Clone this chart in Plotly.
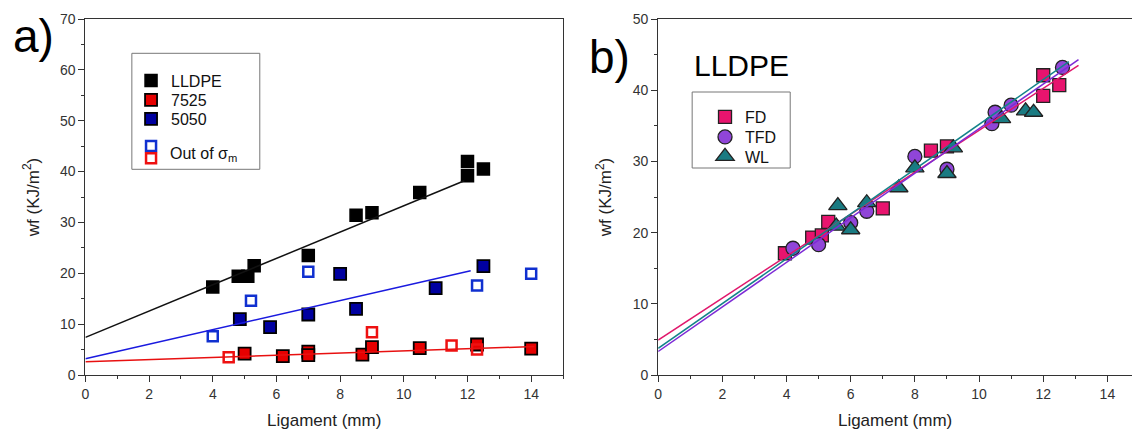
import plotly.graph_objects as go

# ---------------- Panel a) data ----------------
lldpe_x = [4.0, 4.8, 5.1, 5.3, 7.0, 8.5, 9.0, 10.5, 12.0, 12.0, 12.5]
lldpe_y = [17.3, 19.4, 19.4, 21.5, 23.5, 31.4, 31.9, 35.9, 42.0, 39.2, 40.5]
r7525_x = [5.0, 6.2, 7.0, 7.0, 8.7, 9.0, 10.5, 12.3, 14.0]
r7525_y = [4.2, 3.7, 4.6, 3.9, 4.0, 5.5, 5.3, 6.0, 5.2]
b5050_x = [4.85, 5.8, 7.0, 8.0, 8.5, 11.0, 12.5]
b5050_y = [11.0, 9.4, 11.9, 19.9, 13.0, 17.1, 21.4]
out5050_x = [4.0, 5.2, 7.0, 12.3, 14.0]
out5050_y = [7.6, 14.6, 20.3, 17.6, 19.9]
out7525_x = [4.5, 9.0, 11.5, 12.3]
out7525_y = [3.5, 8.4, 5.8, 5.0]

fit_lldpe_x = [0.0, 11.9]
fit_lldpe_y = [7.4, 38.2]
fit_5050_x = [0.0, 12.1]
fit_5050_y = [3.2, 20.5]
fit_7525_x = [0.0, 14.1]
fit_7525_y = [2.6, 5.6]

# ---------------- Panel b) data ----------------
fd_x = [3.95, 4.8, 5.1, 5.3, 7.0, 8.5, 9.0, 12.0, 12.0, 12.5]
fd_y = [17.1, 19.3, 19.6, 21.5, 23.4, 31.5, 32.1, 42.1, 39.2, 40.7]
tfd_x = [4.2, 5.0, 6.0, 6.5, 8.0, 9.0, 10.4, 10.5, 11.0, 12.6]
tfd_y = [17.8, 18.3, 21.4, 23.0, 30.7, 28.9, 35.3, 36.9, 37.9, 43.2]
wl_x = [5.6, 5.55, 6.0, 6.5, 7.5, 8.0, 9.0, 9.2, 10.7, 11.45, 11.7]
wl_y = [23.8, 20.9, 20.4, 24.2, 26.3, 29.1, 28.3, 31.9, 36.0, 37.1, 36.9]

fit_fd_x = [0.0, 13.1]
fit_fd_y = [4.9, 43.5]
fit_tfd_x = [0.0, 13.1]
fit_tfd_y = [3.3, 44.3]
fit_wl_x = [0.0, 12.8]
fit_wl_y = [3.75, 44.0]

x_ticks = [0, 2, 4, 6, 8, 10, 12, 14]
ya_ticks = [0, 10, 20, 30, 40, 50, 60, 70]
yb_ticks = [0, 10, 20, 30, 40, 50]

FONT = "Liberation Sans, Arial, sans-serif"
W, H = 1132, 431
TOP, BOT = 19, 375


def px_x(p):
    return p / W


def px_y(p):
    return (BOT - p) / (BOT - TOP)


fig = go.Figure()

# ---- panel a markers ----
fig.add_trace(go.Scatter(x=lldpe_x, y=lldpe_y, mode="markers", name="LLDPE",
                         marker=dict(symbol="square", size=12, color="#000000",
                                     line=dict(color="#000000", width=1.5)),
                         xaxis="x", yaxis="y", legend="legend"))
fig.add_trace(go.Scatter(x=r7525_x, y=r7525_y, mode="markers", name="7525",
                         marker=dict(symbol="square", size=12, color="#E60000",
                                     line=dict(color="#000000", width=1.8)),
                         xaxis="x", yaxis="y", legend="legend2"))
fig.add_trace(go.Scatter(x=b5050_x, y=b5050_y, mode="markers", name="5050",
                         marker=dict(symbol="square", size=12, color="#0000A0",
                                     line=dict(color="#000000", width=1.8)),
                         xaxis="x", yaxis="y", legend="legend3"))
fig.add_trace(go.Scatter(x=out5050_x, y=out5050_y, mode="markers", name=" ",
                         marker=dict(symbol="square-open", size=10, color="#1030D0",
                                     line=dict(color="#1030D0", width=2.5)),
                         xaxis="x", yaxis="y", legend="legend4"))
fig.add_trace(go.Scatter(x=out7525_x, y=out7525_y, mode="markers", name=" ",
                         marker=dict(symbol="square-open", size=10, color="#EE1111",
                                     line=dict(color="#EE1111", width=2.5)),
                         xaxis="x", yaxis="y", legend="legend5"))
# ---- panel a fits ----
for fx, fy, col in [(fit_lldpe_x, fit_lldpe_y, "#111111"),
                    (fit_5050_x, fit_5050_y, "#1a1adf"),
                    (fit_7525_x, fit_7525_y, "#E81010")]:
    fig.add_trace(go.Scatter(x=fx, y=fy, mode="lines", line=dict(color=col, width=1.5),
                             showlegend=False, xaxis="x", yaxis="y", hoverinfo="skip"))

# ---- panel b markers ----
fig.add_trace(go.Scatter(x=fd_x, y=fd_y, mode="markers", name="FD",
                         marker=dict(symbol="square", size=13, color="#E8146E",
                                     line=dict(color="#222222", width=1.3)),
                         xaxis="x2", yaxis="y2", legend="legend6"))
fig.add_trace(go.Scatter(x=tfd_x, y=tfd_y, mode="markers", name="TFD",
                         marker=dict(symbol="circle", size=14, color="#9045D8",
                                     line=dict(color="#222222", width=1.3)),
                         xaxis="x2", yaxis="y2", legend="legend7"))
fig.add_trace(go.Scatter(x=wl_x, y=wl_y, mode="markers", name="WL",
                         marker=dict(symbol="triangle-up", size=16, color="#1A7B82",
                                     line=dict(color="#222222", width=1.3)),
                         xaxis="x2", yaxis="y2", legend="legend8"))
for fx, fy, col in [(fit_fd_x, fit_fd_y, "#E0186C"),
                    (fit_tfd_x, fit_tfd_y, "#7D2AD6"),
                    (fit_wl_x, fit_wl_y, "#13838A")]:
    fig.add_trace(go.Scatter(x=fx, y=fy, mode="lines", line=dict(color=col, width=1.5),
                             showlegend=False, xaxis="x2", yaxis="y2", hoverinfo="skip"))

axis_common = dict(showline=True, linecolor="#333333", linewidth=1, ticks="outside",
                   ticklen=6, tickwidth=1, tickcolor="#333333", showgrid=False,
                   zeroline=False, tickfont=dict(family=FONT, size=14, color="#333333"),
                   title_font=dict(family=FONT, size=17, color="#222222"))

fig.update_layout(
    width=W, height=H,
    margin=dict(l=0, r=0, t=TOP, b=H - BOT),
    paper_bgcolor="white", plot_bgcolor="white",
    font=dict(family=FONT, color="#222222"),
    xaxis=dict(axis_common, domain=[px_x(81.7), px_x(561)], range=[0, 15],
               tickvals=x_ticks, mirror=True,
               minor=dict(ticks="outside", ticklen=3, dtick=1, tick0=0, tickcolor="#333333"),
               title=dict(text="Ligament (mm)", standoff=13), anchor="y"),
    yaxis=dict(axis_common, domain=[0, 1], range=[0, 70], tickvals=ya_ticks, mirror=True,
               minor=dict(ticks="outside", ticklen=3, dtick=5, tick0=0, tickcolor="#333333"),
               title=dict(text="wf (KJ/m<sup>2</sup>)", standoff=16), anchor="x"),
    xaxis2=dict(axis_common, domain=[px_x(656.5), 1.0], range=[0, (W - 656.5) / 32.2],
                tickvals=x_ticks, mirror=True,
                minor=dict(ticks="outside", ticklen=3, dtick=1, tick0=0, tickcolor="#333333"),
                title=dict(text="Ligament (mm)", standoff=13), anchor="y2"),
    yaxis2=dict(axis_common, domain=[0, 1], range=[0, 50], tickvals=yb_ticks, mirror=False,
                minor=dict(ticks="outside", ticklen=3, dtick=5, tick0=0, tickcolor="#333333"),
                title=dict(text="wf (KJ/m<sup>2</sup>)", standoff=16), anchor="x2"),
    showlegend=True,
)

# per-item legends so each row lands where the original places it
leg_font = dict(family=FONT, size=16, color="#111111")
legend_rows = {
    "legend": (127.5, 80.7),
    "legend2": (127.5, 100.0),
    "legend3": (127.5, 119.0),
    "legend4": (127.5, 146.0),
    "legend5": (127.5, 158.3),
    "legend6": (703.5, 117.0),
    "legend7": (703.5, 137.0),
    "legend8": (703.5, 156.5),
}
for key, (lx, ly) in legend_rows.items():
    fig.update_layout({key: dict(x=px_x(lx), y=px_y(ly), xanchor="left", yanchor="middle",
                                 bgcolor="rgba(0,0,0,0)", borderwidth=0, font=leg_font,
                                 itemsizing="trace")})

# legend frames
fig.add_shape(type="rect", xref="paper", yref="paper",
              x0=px_x(128.3), x1=px_x(256.7), y0=px_y(169.3), y1=px_y(53.3),
              line=dict(color="#777777", width=1), fillcolor="rgba(0,0,0,0)")
fig.add_shape(type="rect", xref="paper", yref="paper",
              x0=px_x(690.6), x1=px_x(789.0), y0=px_y(168.0), y1=px_y(92.0),
              line=dict(color="#777777", width=1), fillcolor="rgba(0,0,0,0)")

fig.add_annotation(text="Out of σ<sub>m</sub>", xref="paper", yref="paper",
                   x=px_x(164.5), y=px_y(154.0), xanchor="left", yanchor="middle",
                   showarrow=False, font=dict(family=FONT, size=16, color="#111111"))
fig.add_annotation(text="a)", xref="paper", yref="paper", x=px_x(30), y=px_y(36),
                   xanchor="center", yanchor="middle", showarrow=False,
                   font=dict(family=FONT, size=46, color="#000000"))
fig.add_annotation(text="b)", xref="paper", yref="paper", x=px_x(608), y=px_y(56.5),
                   xanchor="center", yanchor="middle", showarrow=False,
                   font=dict(family=FONT, size=46, color="#000000"))
fig.add_annotation(text="LLDPE", xref="paper", yref="paper", x=px_x(740), y=px_y(65),
                   xanchor="center", yanchor="middle", showarrow=False,
                   font=dict(family=FONT, size=30, color="#000000"))

fig.write_html("out.html")
